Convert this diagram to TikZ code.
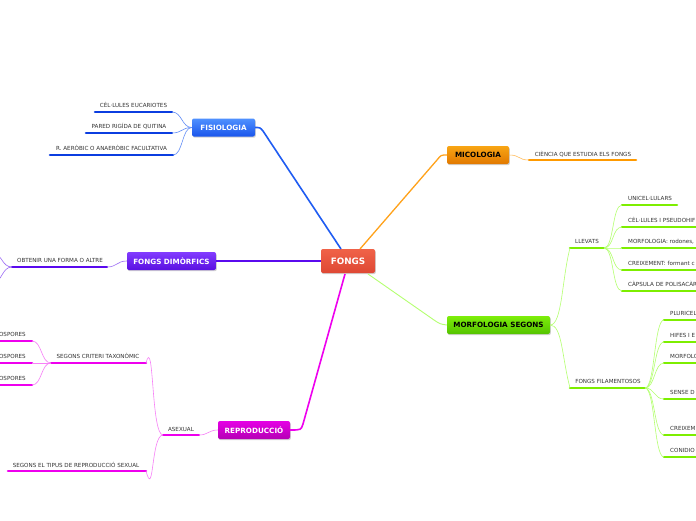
\documentclass[tikz,border=0pt]{standalone}
\usepackage{fontspec}
\setmainfont{DejaVu Sans}
\usetikzlibrary{shadows}
\definecolor{cblue}{HTML}{1F5CF2}
\definecolor{cblueD}{HTML}{0B3DE0}
\definecolor{corange}{HTML}{FFA21A}
\definecolor{corangeD}{HTML}{FF9A00}
\definecolor{cpurple}{HTML}{5A0AEE}
\definecolor{cmag}{HTML}{EE00EE}
\definecolor{cgreen}{HTML}{7DEE00}
\definecolor{cgreenL}{HTML}{B4FF70}
\definecolor{ctext}{HTML}{333333}
\tikzset{
  topic/.style={rounded corners=2pt, minimum height=18pt, inner xsep=5pt, font=\fontsize{7.2}{8}\selectfont\bfseries, drop shadow={shadow xshift=0.8pt, shadow yshift=-1.2pt, opacity=0.35}},
  lbl/.style={font=\fontsize{5.6}{6.5}\selectfont, text=ctext, inner sep=0pt},
  ul/.style={line width=2.6pt, line cap=round},
  con/.style={line width=0.6pt},
}
\begin{document}
\begin{tikzpicture}[x=1pt,y=-1pt]
\useasboundingbox (0,0) rectangle (696,520);
\clip (0,0) rectangle (696,520);
\fill[white] (0,0) rectangle (696,520);

% ---------- central and main topics ----------
\node[topic, top color={rgb,255:red,240;green,98;blue,72}, bottom color={rgb,255:red,222;green,72;blue,52}, text=white, minimum width=54pt, minimum height=24pt, font=\fontsize{8.8}{9}\selectfont\bfseries] (fongs) at (348,261) {FONGS};
\node[topic, top color={rgb,255:red,80;green,145;blue,255}, bottom color={rgb,255:red,25;green,85;blue,235}, text=white, minimum width=63pt] (fis) at (223.5,127.5) {FISIOLOGIA};
\node[topic, top color={rgb,255:red,248;green,165;blue,20}, bottom color={rgb,255:red,225;green,120;blue,0}, text=black, minimum width=62pt] (mic) at (478,155) {MICOLOGIA};
\node[topic, top color={rgb,255:red,130;green,60;blue,255}, bottom color={rgb,255:red,90;green,15;blue,225}, text=white, minimum width=89pt] (dim) at (171.5,261) {FONGS DIMÒRFICS};
\node[topic, top color={rgb,255:red,230;green,0;blue,230}, bottom color={rgb,255:red,180;green,0;blue,180}, text=white, minimum width=72pt] (rep) at (254,430) {REPRODUCCIÓ};
\node[topic, top color={rgb,255:red,125;green,238;blue,10}, bottom color={rgb,255:red,85;green,195;blue,0}, text=black, minimum width=103pt] (mor) at (498.5,325) {MORFOLOGIA SEGONS};

% main connectors
\coordinate (a1) at (341,249); \coordinate (a2) at (263,131);
\draw[cblue, line width=1.6pt] (a1) -- (a2) .. controls (260,127.5) .. (fis.east);
\coordinate (b1) at (360,249); \coordinate (b2) at (437,160);
\draw[corange, line width=1.3pt] (b1) -- (b2) .. controls (441,155) .. (mic.west);
\draw[cpurple, line width=1.6pt] (fongs.west) -- (dim.east);
\coordinate (d1) at (345,274); \coordinate (d2) at (303,424);
\draw[cmag, line width=1.6pt] (d1) -- (d2) .. controls (301,430) .. (rep.east);
\coordinate (e1) at (368,274); \coordinate (e2) at (434,320);
\draw[cgreenL, line width=0.9pt] (e1) -- (e2) .. controls (440,324) .. (mor.west);

% ---------- FISIOLOGIA children ----------
\node[lbl, anchor=base] (f1) at (133.5,107) {CÈL·LULES EUCARIOTES};
\coordinate (f1l) at (95,112); \coordinate (f1r) at (172,112);
\node[lbl, anchor=base] (f2) at (129,128) {PARED RIGÍDA DE QUITINA};
\coordinate (f2l) at (86,133); \coordinate (f2r) at (172,133);
\node[lbl, anchor=base] (f3) at (111.5,150) {R. AERÒBIC O ANAERÒBIC FACULTATIVA};
\coordinate (f3l) at (50,155); \coordinate (f3r) at (173,155);
\foreach \n in {f1,f2,f3}{
  \draw[ul, cblueD] (\n l) -- (\n r);
  \draw[con, cblue!70] (fis.west) .. controls +(-10,0) and +(10,0) .. (\n r);
}

% ---------- MICOLOGIA child ----------
\node[lbl, anchor=base] (m1) at (583,156) {CIÈNCIA QUE ESTUDIA ELS FONGS};
\coordinate (m1l) at (529,160); \coordinate (m1r) at (636,160);
\draw[ul, corangeD] (m1l) -- (m1r);
\draw[con, corange!70] (mic.east) .. controls +(11,0) and +(-11,0) .. (m1l);

% ---------- FONGS DIMORFICS child ----------
\node[lbl, anchor=base] (o1) at (60,262) {OBTENIR UNA FORMA O ALTRE};
\coordinate (o1l) at (12,267); \coordinate (o1r) at (107,267);
\draw[ul, cpurple] (o1l) -- (o1r);
\draw[con, cpurple!60] (dim.west) .. controls +(-10,0) and +(10,0) .. (o1r);
\coordinate (o1a) at (-6,254); \coordinate (o1b) at (-6,282);
\draw[con, cpurple!60] (o1l) .. controls +(-10,0) and +(8,0) .. (o1a);
\draw[con, cpurple!60] (o1l) .. controls +(-10,0) and +(8,0) .. (o1b);

% ---------- REPRODUCCIO children ----------
\node[lbl, anchor=base] (r1) at (181,431) {ASEXUAL};
\coordinate (r1l) at (163,435); \coordinate (r1r) at (199,435);
\draw[ul, cmag] (r1l) -- (r1r);
\draw[con, cmag!50] (rep.west) .. controls +(-9,0) and +(9,0) .. (r1r);

\node[lbl, anchor=base] (r2) at (98,358) {SEGONS CRITERI TAXONÒMIC};
\coordinate (r2l) at (51,363); \coordinate (r2r) at (146,363);
\node[lbl, anchor=base] (r3) at (76,467) {SEGONS EL TIPUS DE REPRODUCCIÓ SEXUAL};
\coordinate (r3l) at (8,471); \coordinate (r3r) at (146,471);
\draw[ul, cmag] (r2l) -- (r2r);
\draw[ul, cmag] (r3l) -- (r3r);
\draw[con, cmag!50] (r1l) .. controls +(-12,0) and +(8,-30) .. (r2r);
\draw[con, cmag!50] (r1l) .. controls +(-12,0) and +(8,30) .. (r3r);

\node[lbl, anchor=base east] (s1) at (26,336) {OSPORES};
\coordinate (s1l) at (-4,341); \coordinate (s1r) at (32,341);
\node[lbl, anchor=base east] (s2) at (26,358) {OSPORES};
\coordinate (s2l) at (-4,363); \coordinate (s2r) at (32,363);
\node[lbl, anchor=base east] (s3) at (26,380) {OSPORES};
\coordinate (s3l) at (-4,385); \coordinate (s3r) at (32,385);
\foreach \n in {s1,s2,s3}{
  \draw[ul, cmag] (\n l) -- (\n r);
  \draw[con, cmag!50] (r2l) .. controls +(-10,0) and +(10,0) .. (\n r);
}

% ---------- MORFOLOGIA children ----------
\node[lbl, anchor=base] (g1) at (587,243) {LLEVATS};
\coordinate (g1l) at (570,248); \coordinate (g1r) at (604,248);
\node[lbl, anchor=base] (g2) at (608,383) {FONGS FILAMENTOSOS};
\coordinate (g2l) at (570,388); \coordinate (g2r) at (645,388);
\draw[ul, cgreen] (g1l) -- (g1r);
\draw[ul, cgreen] (g2l) -- (g2r);
\draw[con, cgreenL] (mor.east) .. controls +(12,0) and +(-8,30) .. (g1l);
\draw[con, cgreenL] (mor.east) .. controls +(12,0) and +(-8,-30) .. (g2l);

% LLEVATS children
\node[lbl, anchor=base west] (h1) at (628,200) {UNICEL·LULARS};
\coordinate (h1l) at (622,205); \coordinate (h1r) at (677,205);
\node[lbl, anchor=base west] (h2) at (628,222) {CÈL·LULES I PSEUDOHIF};
\coordinate (h2l) at (622,227); \coordinate (h2r) at (700,227);
\node[lbl, anchor=base west] (h3) at (628,243) {MORFOLOGIA: rodones,};
\coordinate (h3l) at (622,248); \coordinate (h3r) at (700,248);
\node[lbl, anchor=base west] (h4) at (628,265) {CREIXEMENT: formant c};
\coordinate (h4l) at (622,270); \coordinate (h4r) at (700,270);
\node[lbl, anchor=base west] (h5) at (628,286) {CÀPSULA DE POLISACÀR};
\coordinate (h5l) at (622,291); \coordinate (h5r) at (700,291);
\foreach \n in {h1,h2,h3,h4,h5}{
  \draw[ul, cgreen] (\n l) -- (\n r);
  \draw[con, cgreenL] (g1r) .. controls +(10,0) and +(-10,0) .. (\n l);
}

% FONGS FILAMENTOSOS children
\node[lbl, anchor=base west] (k1) at (670,315) {PLURICEL};
\coordinate (k1l) at (664,320); \coordinate (k1r) at (700,320);
\node[lbl, anchor=base west] (k2) at (670,337) {HIFES I E};
\coordinate (k2l) at (664,342); \coordinate (k2r) at (700,342);
\node[lbl, anchor=base west] (k3) at (670,358) {MORFOLO};
\coordinate (k3l) at (664,363); \coordinate (k3r) at (700,363);
\node[lbl, anchor=base west] (k4) at (670,394) {SENSE D};
\coordinate (k4l) at (664,399); \coordinate (k4r) at (700,399);
\node[lbl, anchor=base west] (k5) at (670,430) {CREIXEM};
\coordinate (k5l) at (664,435); \coordinate (k5r) at (700,435);
\node[lbl, anchor=base west] (k6) at (670,452) {CONIDIO};
\coordinate (k6l) at (664,457); \coordinate (k6r) at (700,457);
\foreach \n in {k1,k2,k3,k4,k5,k6}{
  \draw[ul, cgreen] (\n l) -- (\n r);
  \draw[con, cgreenL] (g2r) .. controls +(10,0) and +(-10,0) .. (\n l);
}
\end{tikzpicture}
\end{document}
